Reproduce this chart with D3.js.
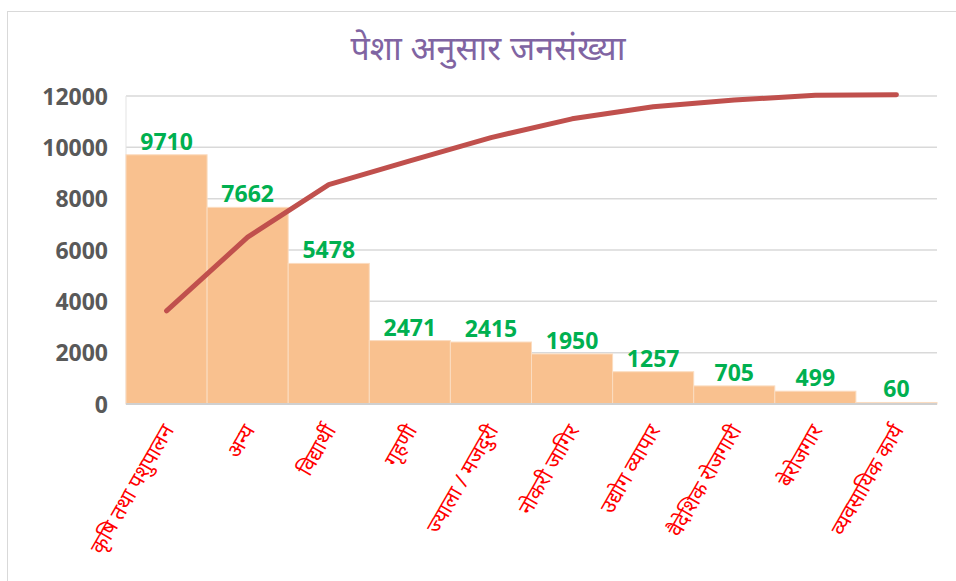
<!DOCTYPE html>
<html>
<head>
<meta charset="utf-8">
<title>पेशा अनुसार जनसंख्या</title>
<script src="https://d3js.org/d3.v7.min.js"></script>
<style>
    body { margin: 0; background: #fff; }
    text { font-family: "Noto Sans", "Noto Sans Devanagari", sans-serif; }
</style>
</head>
<body>
<svg class="chart"></svg>
<script>
    // occupations
    var categories = ["कृषि तथा पशुपालन", "अन्य", "विद्यार्थी", "गृहणी", "ज्याला / मजदुरी",
        "नोकरी जागिर", "उद्योग व्यापार", "वैदेशिक रोजगारी", "बेरोजगार", "व्यवसायिक कार्य"];
    // population per occupation
    var population = [9710, 7662, 5478, 2471, 2415, 1950, 1257, 705, 499, 60];
    // cumulative line (left axis units)
    var cumulative = [3630, 6500, 8550, 9470, 10380, 11110, 11580, 11840, 12030, 12050];
    var yTicks = [0, 2000, 4000, 6000, 8000, 10000, 12000];

    var W = 956, H = 581;
    var margin = { top: 96, right: 19, bottom: 177, left: 126 };
    var width = W - margin.left - margin.right;
    var height = H - margin.top - margin.bottom;

    var svg = d3.select(".chart").attr("width", W).attr("height", H);

    // outer chart border
    svg.append("rect")
        .attr("x", 7.5).attr("y", 11.5)
        .attr("width", W).attr("height", H)
        .attr("fill", "none").attr("stroke", "#d9d9d9");

    svg.append("text")
        .attr("x", 488).attr("y", 60)
        .attr("text-anchor", "middle")
        .attr("fill", "#8064a2")
        .style("font-size", "34px")
        .text("पेशा अनुसार जनसंख्या");

    var chart = svg.append("g")
        .attr("transform", "translate(" + margin.left + "," + margin.top + ")");

    var x = d3.scaleBand().domain(categories).range([0, width]).padding(0);
    var y = d3.scaleLinear().domain([0, 12000]).range([height, 0]);

    // gridlines
    chart.append("g")
        .selectAll("line")
        .data(yTicks)
        .enter().append("line")
        .attr("x1", 0).attr("x2", width)
        .attr("y1", function(d) { return y(d); })
        .attr("y2", function(d) { return y(d); })
        .attr("stroke", "#d9d9d9").attr("stroke-width", 1.5);

    chart.append("line")
        .attr("x1", 0).attr("x2", 0).attr("y1", 0).attr("y2", height)
        .attr("stroke", "#e3e3e3");

    // bars
    chart.selectAll(".bar")
        .data(population)
        .enter().append("rect")
        .attr("class", "bar")
        .attr("x", function(d, i) { return x(categories[i]); })
        .attr("y", function(d) { return y(d); })
        .attr("width", x.bandwidth())
        .attr("height", function(d) { return height - y(d); })
        .attr("fill", "#f9c18f")
        .attr("stroke", "#fbdcc0").attr("stroke-width", 1);

    // baseline
    chart.append("line")
        .attr("x1", 0).attr("x2", width).attr("y1", height).attr("y2", height)
        .attr("stroke", "#d0d0d0").attr("stroke-width", 2);

    // data labels
    chart.selectAll(".lbl")
        .data(population)
        .enter().append("text")
        .attr("class", "lbl")
        .attr("x", function(d, i) { return x(categories[i]) + x.bandwidth() / 2; })
        .attr("y", function(d) { return y(d) - 5; })
        .attr("text-anchor", "middle")
        .attr("fill", "#00b050")
        .style("font-size", "23px").style("font-weight", "bold")
        .text(function(d) { return d; });

    // cumulative line
    var line = d3.line()
        .x(function(d, i) { return x(categories[i]) + x.bandwidth() / 2; })
        .y(function(d) { return y(d); });

    chart.append("path")
        .datum(cumulative)
        .attr("d", line)
        .attr("fill", "none")
        .attr("stroke", "#c0504d")
        .attr("stroke-width", 5)
        .attr("stroke-linecap", "round")
        .attr("stroke-linejoin", "round");

    // left axis
    var yAxis = d3.axisLeft(y).tickValues(yTicks).tickSize(0).tickPadding(18).tickFormat(d3.format("d"));
    var ya = chart.append("g").call(yAxis);
    ya.select(".domain").remove();
    ya.selectAll("text")
        .attr("fill", "#595959")
        .attr("dy", "0.35em")
        .style("font-size", "23px").style("font-weight", "bold")
        .style("font-family", "'Open Sans', 'Noto Sans', sans-serif");

    // bottom axis
    var xAxis = d3.axisBottom(x).tickSize(0).tickPadding(0);
    var xa = chart.append("g")
        .attr("transform", "translate(0," + height + ")")
        .call(xAxis);
    xa.select(".domain").remove();
    xa.selectAll("text")
        .attr("fill", "#ff0000")
        .style("font-size", "21px")
        .style("text-anchor", "end")
        .attr("dx", "0")
        .attr("dy", "0")
        .attr("transform", "translate(8,26) rotate(-60)");
</script>
</body>
</html>
